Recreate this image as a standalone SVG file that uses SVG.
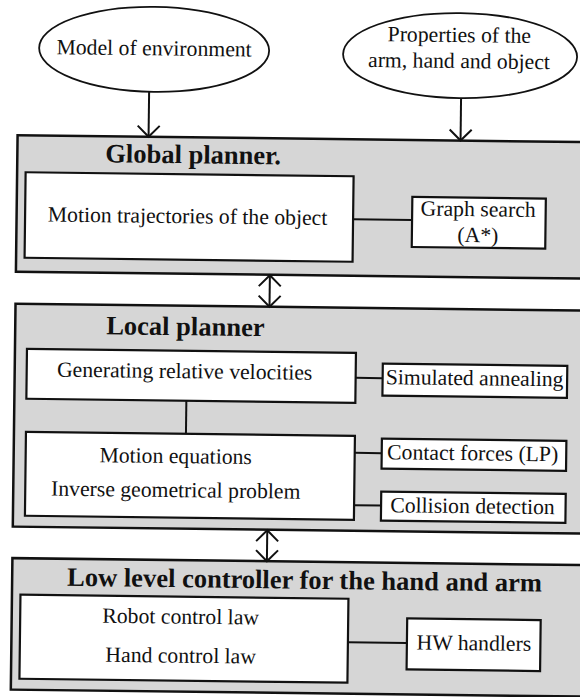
<svg xmlns="http://www.w3.org/2000/svg" width="580" height="697" viewBox="0 0 580 697">
  <style>
    .outer { fill: #d6d6d6; stroke: #111; stroke-width: 2.5; }
    .inner { fill: #ffffff; stroke: #111; stroke-width: 2.2; }
    .ell { fill: #ffffff; stroke: #111; stroke-width: 1.8; }
    .txt { font-family: "Liberation Serif", "Times New Roman", serif; font-size: 21.7px; fill: #111; text-anchor: middle; }
    .title { font-family: "Liberation Serif", "Times New Roman", serif; font-size: 26.5px; font-weight: bold; fill: #111; }
    .link { stroke: #111; stroke-width: 2; fill: none; }
    .arrow { stroke: #111; stroke-width: 2; fill: none; marker-end: url(#head); }
    .darrow { stroke: #111; stroke-width: 2; fill: none; marker-end: url(#head); marker-start: url(#head); }
  </style>
  <defs>
    <marker id="head" markerUnits="userSpaceOnUse" markerWidth="30" markerHeight="30" viewBox="-15 -15 30 30" refX="0" refY="0" orient="auto-start-reverse">
      <path d="M -11 -11 L 0 0 L -11 11" fill="none" stroke="#111" stroke-width="2"/>
    </marker>
  </defs>
  <rect x="0" y="0" width="580" height="697" fill="#ffffff"/>
  <g transform="rotate(0.7 290 348)">
    <g id="model-of-environment">
      <ellipse class="ell" cx="150.5" cy="51" rx="115" ry="42.5"/>
      <text class="txt" x="150.5" y="57">Model of environment</text>
    </g>
    <g id="properties">
      <ellipse class="ell" cx="456.5" cy="53.5" rx="117" ry="42.5"/>
      <text class="txt" x="455.5" y="40">Properties of the</text>
      <text class="txt" x="455.5" y="66">arm, hand and object</text>
    </g>

    <g id="global-planner">
      <rect class="outer" x="15" y="138.5" width="575" height="136.5"/>
      <text class="title" x="103" y="164.5">Global planner.</text>
    </g>
    <g id="motion-trajectories">
      <rect class="inner" x="23.5" y="175.5" width="328" height="85.5"/>
      <text class="txt" x="186" y="224.5">Motion trajectories of the object</text>
    </g>
    <g id="graph-search">
      <rect class="inner" x="410.5" y="195.5" width="133.5" height="50"/>
      <text class="txt" x="476.5" y="214">Graph search</text>
      <text class="txt" x="476.5" y="240">(A*)</text>
    </g>

    <g id="local-planner">
      <rect class="outer" x="15" y="307" width="575" height="223"/>
      <text class="title" x="106" y="336.5">Local planner</text>
    </g>
    <g id="generating-velocities">
      <rect class="inner" x="27" y="352" width="329" height="50"/>
      <text class="txt" x="185" y="379.5">Generating relative velocities</text>
    </g>
    <g id="motion-equations">
      <rect class="inner" x="27" y="435" width="329" height="84"/>
      <text class="txt" x="177" y="464.5">Motion equations</text>
      <text class="txt" x="177.5" y="498.5">Inverse geometrical problem</text>
    </g>
    <g id="simulated-annealing">
      <rect class="inner" x="383" y="362.5" width="184.5" height="32"/>
      <text class="txt" x="475" y="383">Simulated annealing</text>
    </g>
    <g id="contact-forces">
      <rect class="inner" x="383" y="437.5" width="184.5" height="30"/>
      <text class="txt" x="474" y="458">Contact forces (LP)</text>
    </g>
    <g id="collision-detection">
      <rect class="inner" x="383" y="490.5" width="184.5" height="29"/>
      <text class="txt" x="474.5" y="511">Collision detection</text>
    </g>

    <g id="low-level-controller">
      <rect class="outer" x="15" y="561.5" width="575" height="131.5"/>
      <text class="title" x="70" y="588.5">Low level controller for the hand and arm</text>
    </g>
    <g id="control-laws">
      <rect class="inner" x="23.5" y="598" width="328" height="84"/>
      <text class="txt" x="184" y="625">Robot control law</text>
      <text class="txt" x="184.5" y="664">Hand control law</text>
    </g>
    <g id="hw-handlers">
      <rect class="inner" x="410.5" y="617" width="133.5" height="51"/>
      <text class="txt" x="477.5" y="648">HW handlers</text>
    </g>

    <g id="connectors">
      <line class="arrow" x1="146" y1="93.5" x2="146" y2="138.5"/>
      <line class="arrow" x1="458" y1="96" x2="458" y2="138.5"/>
      <line class="darrow" x1="269" y1="275.5" x2="269" y2="307"/>
      <line class="darrow" x1="269.5" y1="530.5" x2="269.5" y2="561.5"/>
      <line class="link" x1="351.5" y1="218.5" x2="410.5" y2="218.5"/>
      <line class="link" x1="356" y1="377" x2="383" y2="377"/>
      <line class="link" x1="187" y1="402" x2="187" y2="435"/>
      <line class="link" x1="356" y1="452" x2="383" y2="452"/>
      <line class="link" x1="356" y1="504.5" x2="383" y2="504.5"/>
      <line class="link" x1="351.5" y1="641.5" x2="410.5" y2="641.5"/>
    </g>
  </g>
</svg>
